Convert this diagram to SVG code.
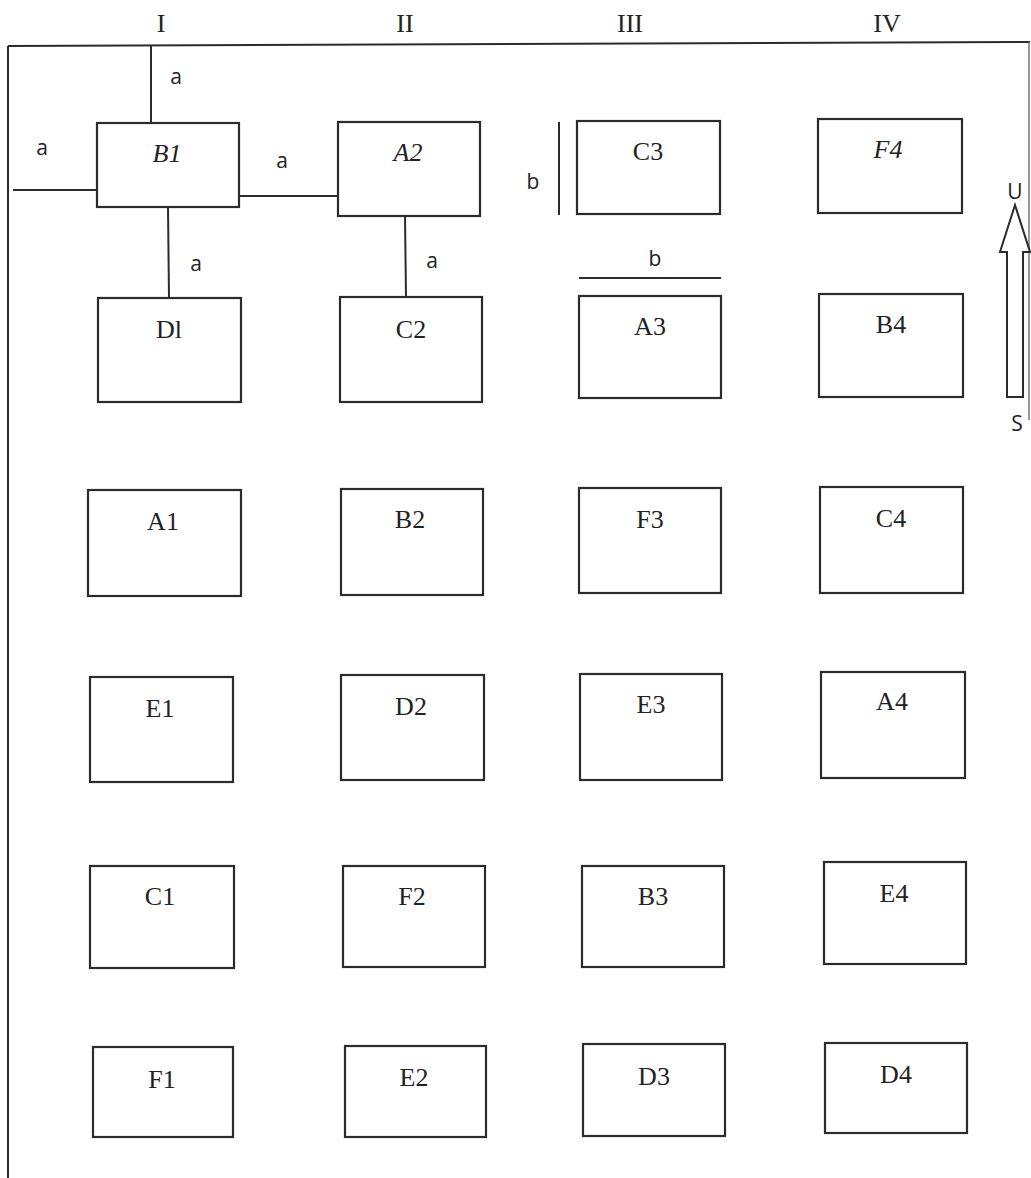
<svg xmlns="http://www.w3.org/2000/svg" width="1031" height="1178" viewBox="0 0 1031 1178">
<style>
.bx{fill:none;stroke:#2b2b2b;stroke-width:2.2}
.ln{fill:none;stroke:#2b2b2b;stroke-width:2}
.lb{font-family:"Liberation Serif","Times New Roman",serif;font-size:26px;fill:#222;text-anchor:middle}
.it{font-style:italic}
.sm{font-family:"Open Sans","Noto Sans",sans-serif;font-size:21px;fill:#222;text-anchor:middle}
.hd{font-family:"Liberation Serif","Times New Roman",serif;font-size:26px;fill:#222;text-anchor:middle}
</style>
<rect width="1031" height="1178" fill="#ffffff"/>
<g id="frame">
<line class="ln" x1="8" y1="46" x2="1030" y2="42"/>
<line class="ln" x1="8" y1="46" x2="8" y2="1178"/>
<line x1="1029" y1="42" x2="1029" y2="420" stroke="#777" stroke-width="1.5"/>
</g>
<g id="headers">
<text class="hd" x="161" y="32">I</text>
<text class="hd" x="405" y="32">II</text>
<text class="hd" x="630" y="32">III</text>
<text class="hd" x="887" y="32">IV</text>
</g>
<g id="connectors">
<line class="ln" x1="151" y1="46" x2="151" y2="123"/>
<text class="sm" x="176" y="84">a</text>
<line class="ln" x1="13" y1="190" x2="97" y2="190"/>
<text class="sm" x="42" y="155">a</text>
<line class="ln" x1="239" y1="196" x2="338" y2="196"/>
<text class="sm" x="282" y="168">a</text>
<line class="ln" x1="168" y1="207" x2="169" y2="298"/>
<text class="sm" x="196" y="271">a</text>
<line class="ln" x1="405" y1="216" x2="406" y2="297"/>
<text class="sm" x="432" y="268">a</text>
<line class="ln" x1="559" y1="122" x2="559" y2="215"/>
<text class="sm" x="533" y="189">b</text>
<line class="ln" x1="579" y1="278" x2="721" y2="278"/>
<text class="sm" x="655" y="266">b</text>
</g>
<g id="arrow">
<polygon points="1015,205 1030,252 1023,252 1023,397 1007,397 1007,252 1000,252" fill="#fff" stroke="#2b2b2b" stroke-width="2"/>
<text class="sm" x="1015" y="199">U</text>
<text class="sm" x="1017" y="431">S</text>
</g>
<g id="B1"><rect class="bx" x="97" y="123" width="142" height="84"/><text class="lb it" x="167" y="162">B1</text></g>
<g id="A2"><rect class="bx" x="338" y="122" width="142" height="94"/><text class="lb it" x="408" y="161">A2</text></g>
<g id="C3"><rect class="bx" x="577" y="121" width="143" height="93"/><text class="lb" x="648" y="160">C3</text></g>
<g id="F4"><rect class="bx" x="818" y="119" width="144" height="94"/><text class="lb it" x="888" y="158">F4</text></g>
<g id="D1"><rect class="bx" x="98" y="298" width="143" height="104"/><text class="lb" x="169" y="338">Dl</text></g>
<g id="C2"><rect class="bx" x="340" y="297" width="142" height="105"/><text class="lb" x="411" y="338">C2</text></g>
<g id="A3"><rect class="bx" x="579" y="296" width="142" height="102"/><text class="lb" x="650" y="335">A3</text></g>
<g id="B4"><rect class="bx" x="819" y="294" width="144" height="103"/><text class="lb" x="891" y="333">B4</text></g>
<g id="A1"><rect class="bx" x="88" y="490" width="153" height="106"/><text class="lb" x="163" y="530">A1</text></g>
<g id="B2"><rect class="bx" x="341" y="489" width="142" height="106"/><text class="lb" x="410" y="528">B2</text></g>
<g id="F3"><rect class="bx" x="579" y="488" width="142" height="105"/><text class="lb" x="650" y="528">F3</text></g>
<g id="C4"><rect class="bx" x="820" y="487" width="143" height="106"/><text class="lb" x="891" y="527">C4</text></g>
<g id="E1"><rect class="bx" x="90" y="677" width="143" height="105"/><text class="lb" x="160" y="717">E1</text></g>
<g id="D2"><rect class="bx" x="341" y="675" width="143" height="105"/><text class="lb" x="411" y="715">D2</text></g>
<g id="E3"><rect class="bx" x="580" y="674" width="142" height="106"/><text class="lb" x="651" y="713">E3</text></g>
<g id="A4"><rect class="bx" x="821" y="672" width="144" height="106"/><text class="lb" x="892" y="710">A4</text></g>
<g id="C1"><rect class="bx" x="90" y="866" width="144" height="102"/><text class="lb" x="160" y="905">C1</text></g>
<g id="F2"><rect class="bx" x="343" y="866" width="142" height="101"/><text class="lb" x="412" y="905">F2</text></g>
<g id="B3"><rect class="bx" x="582" y="866" width="142" height="101"/><text class="lb" x="653" y="905">B3</text></g>
<g id="E4"><rect class="bx" x="824" y="862" width="142" height="102"/><text class="lb" x="894" y="902">E4</text></g>
<g id="F1"><rect class="bx" x="93" y="1047" width="140" height="90"/><text class="lb" x="162" y="1088">F1</text></g>
<g id="E2"><rect class="bx" x="345" y="1046" width="141" height="91"/><text class="lb" x="414" y="1086">E2</text></g>
<g id="D3"><rect class="bx" x="583" y="1044" width="142" height="92"/><text class="lb" x="654" y="1085">D3</text></g>
<g id="D4"><rect class="bx" x="825" y="1043" width="142" height="90"/><text class="lb" x="896" y="1083">D4</text></g>
</svg>
